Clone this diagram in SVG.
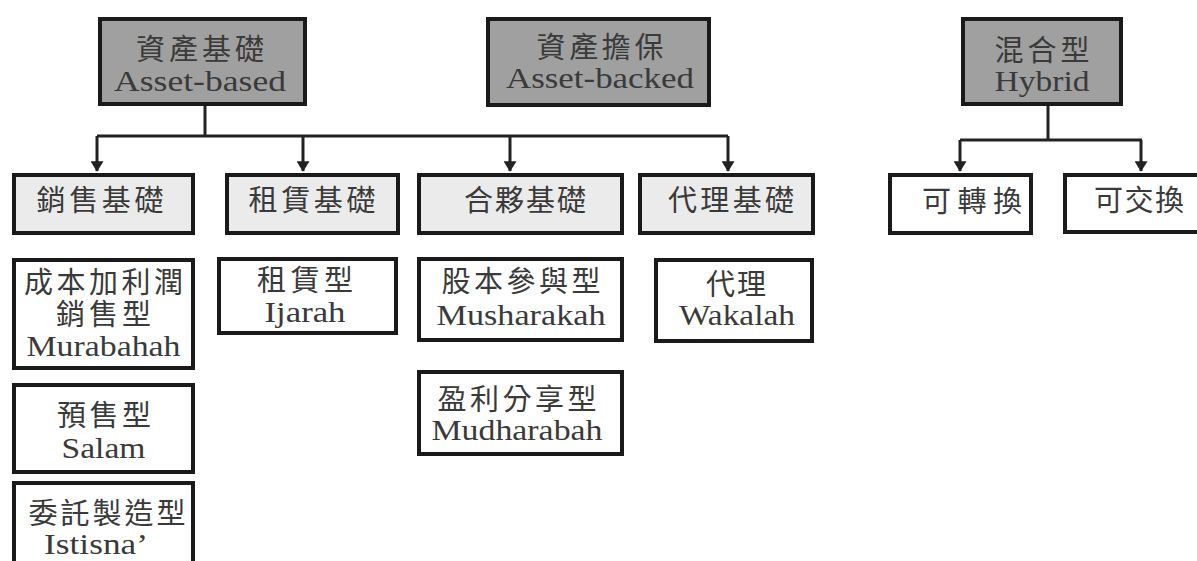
<svg xmlns="http://www.w3.org/2000/svg" width="1197" height="561" viewBox="0 0 1197 561">
<style>
.box{stroke:#1a1a1a;stroke-width:4}
.top{fill:#a0a0a0}
.mid{fill:#ebebeb}
.leaf{fill:#ffffff}
.cjk{font-family:"Liberation Serif","Noto Sans CJK TC",serif;font-size:29px;fill:#3a3a3a;text-anchor:middle}
.lat{font-family:"Liberation Serif",serif;font-size:29px;fill:#3a3a3a;text-anchor:middle}
.conn{stroke:#222;stroke-width:3;fill:none}
</style>
<defs>
<marker id="arrd" markerUnits="userSpaceOnUse" markerWidth="16" markerHeight="13" refX="12" refY="8" orient="auto" viewBox="0 0 13 16">
<path d="M0,0 L13,8 L0,16 Z" fill="#222"/>
</marker>
</defs>
<rect width="1197" height="561" fill="#ffffff"/>
<g id="connectors">
<path class="conn" d="M205,104 V136 M97,136 H728 M960,140 H1142 M1048,104 V140"/>
<path class="conn" d="M97,136 V171" marker-end="url(#arrd)"/>
<path class="conn" d="M303,136 V171" marker-end="url(#arrd)"/>
<path class="conn" d="M510,136 V171" marker-end="url(#arrd)"/>
<path class="conn" d="M728,136 V171" marker-end="url(#arrd)"/>
<path class="conn" d="M960,140 V171" marker-end="url(#arrd)"/>
<path class="conn" d="M1141,140 V171" marker-end="url(#arrd)"/>
</g>
<g id="asset-based">
<rect class="box top" x="100" y="19" width="205" height="85"/>
<text class="cjk" x="200" y="60" textLength="128" lengthAdjust="spacing">資產基礎</text>
<text class="lat" x="200" y="91" textLength="172" lengthAdjust="spacingAndGlyphs">Asset-based</text>
</g>
<g id="asset-backed">
<rect class="box top" x="488" y="19" width="221" height="86"/>
<text class="cjk" x="600" y="58" textLength="127" lengthAdjust="spacing">資產擔保</text>
<text class="lat" x="600" y="88" textLength="188" lengthAdjust="spacingAndGlyphs">Asset-backed</text>
</g>
<g id="hybrid">
<rect class="box top" x="963" y="19" width="158" height="85"/>
<text class="cjk" x="1042" y="61" textLength="95" lengthAdjust="spacing">混合型</text>
<text class="lat" x="1042" y="91" textLength="95" lengthAdjust="spacingAndGlyphs">Hybrid</text>
</g>
<g id="sales">
<rect class="box mid" x="14" y="175" width="179" height="58"/>
<text class="cjk" x="100" y="211" textLength="127" lengthAdjust="spacing">銷售基礎</text>
</g>
<g id="lease">
<rect class="box mid" x="227" y="175" width="171" height="58"/>
<text class="cjk" x="312" y="211" textLength="127" lengthAdjust="spacing">租賃基礎</text>
</g>
<g id="partnership">
<rect class="box mid" x="419" y="175" width="203" height="58"/>
<text class="cjk" x="525" y="211" textLength="122" lengthAdjust="spacing">合夥基礎</text>
</g>
<g id="agency">
<rect class="box mid" x="640" y="175" width="173" height="58"/>
<text class="cjk" x="731" y="211" textLength="126" lengthAdjust="spacing">代理基礎</text>
</g>
<g id="convertible">
<rect class="box leaf" x="890" y="175" width="141" height="58"/>
<text class="cjk" x="972" y="212" textLength="100" lengthAdjust="spacing">可轉換</text>
</g>
<g id="exchangeable">
<rect class="box leaf" x="1065" y="175" width="140" height="57"/>
<text class="cjk" x="1139" y="211" textLength="90" lengthAdjust="spacing">可交換</text>
</g>
<g id="murabahah">
<rect class="box leaf" x="14" y="260" width="179" height="108"/>
<text class="cjk" x="103.5" y="293" textLength="159" lengthAdjust="spacing">成本加利潤</text>
<text class="cjk" x="103.5" y="325" textLength="95" lengthAdjust="spacing">銷售型</text>
<text class="lat" x="103.5" y="356" textLength="154" lengthAdjust="spacingAndGlyphs">Murabahah</text>
</g>
<g id="salam">
<rect class="box leaf" x="14" y="385" width="179" height="87"/>
<text class="cjk" x="104" y="426" textLength="94" lengthAdjust="spacing">預售型</text>
<text class="lat" x="103.5" y="458" textLength="84" lengthAdjust="spacingAndGlyphs">Salam</text>
</g>
<g id="istisna">
<rect class="box leaf" x="14" y="483" width="179" height="100"/>
<text class="cjk" x="107" y="524" textLength="157" lengthAdjust="spacing">委託製造型</text>
<text class="lat" x="96" y="554" textLength="104" lengthAdjust="spacingAndGlyphs">Istisna’</text>
</g>
<g id="ijarah">
<rect class="box leaf" x="219" y="259" width="177" height="74"/>
<text class="cjk" x="305" y="291" textLength="96" lengthAdjust="spacing">租賃型</text>
<text class="lat" x="305" y="322" textLength="81" lengthAdjust="spacingAndGlyphs">Ijarah</text>
</g>
<g id="musharakah">
<rect class="box leaf" x="419" y="259" width="203" height="81"/>
<text class="cjk" x="521" y="292" textLength="159" lengthAdjust="spacing">股本參與型</text>
<text class="lat" x="521" y="325" textLength="169" lengthAdjust="spacingAndGlyphs">Musharakah</text>
</g>
<g id="mudharabah">
<rect class="box leaf" x="419" y="372" width="203" height="82"/>
<text class="cjk" x="517" y="410" textLength="159" lengthAdjust="spacing">盈利分享型</text>
<text class="lat" x="517" y="440" textLength="171" lengthAdjust="spacingAndGlyphs">Mudharabah</text>
</g>
<g id="wakalah">
<rect class="box leaf" x="656" y="260" width="156" height="81"/>
<text class="cjk" x="736" y="295" textLength="60" lengthAdjust="spacing">代理</text>
<text class="lat" x="737" y="325" textLength="116" lengthAdjust="spacingAndGlyphs">Wakalah</text>
</g>
</svg>
